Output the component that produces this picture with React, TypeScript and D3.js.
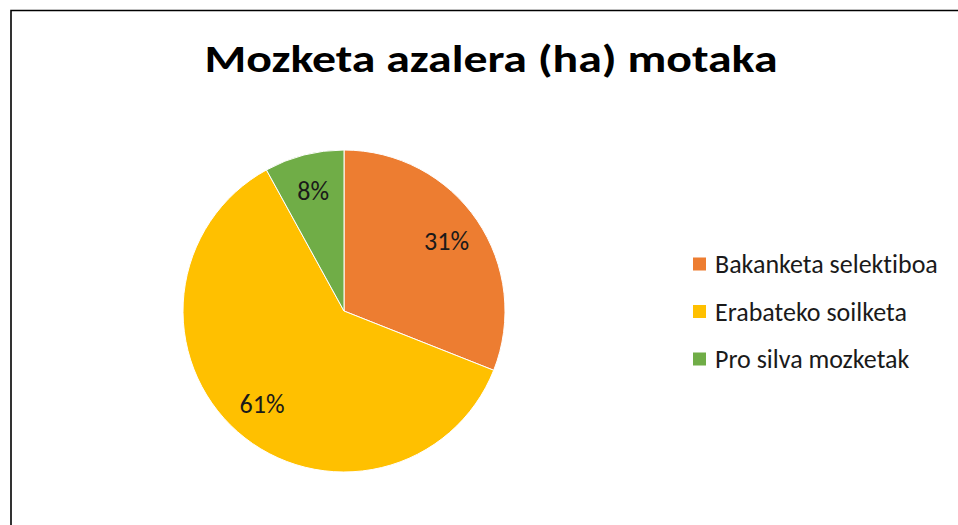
import React, { useEffect, useRef } from "react";
import * as d3 from "d3";

const title = "Mozketa azalera (ha) motaka";
const categories = ["Bakanketa selektiboa", "Erabateko soilketa", "Pro silva mozketak"];
const shares = [31, 61, 8];
const colors = ["#ED7D31", "#FFC000", "#70AD47"];

const FONT = "Calibri, Carlito, Lato, sans-serif";

export default function App() {
  const ref = useRef<SVGSVGElement>(null);

  useEffect(() => {
    const svg = d3.select(ref.current);
    svg.selectAll("*").remove();

    const width = 958;
    const height = 525;

    // chart frame (only top and left edges visible)
    svg.append("path")
      .attr("d", `M11,${height} L11,10.5 L${width},10.5`)
      .attr("fill", "none")
      .attr("stroke", "#000")
      .attr("stroke-width", 1.6);

    // title
    svg.append("text")
      .attr("x", 491)
      .attr("y", 72)
      .attr("text-anchor", "middle")
      .attr("font-family", FONT)
      .attr("font-weight", "bold")
      .attr("font-size", 39)
      .attr("textLength", 573)
      .attr("lengthAdjust", "spacingAndGlyphs")
      .attr("fill", "#000")
      .text(title);

    const data = categories.map((c, i) => ({ name: c, value: shares[i], color: colors[i] }));

    const radius = 161;
    const cx = 344;
    const cy = 311;

    const pie = d3.pie<any>().sort(null).value(d => d.value);
    const arcs = pie(data);
    const arc = d3.arc<any>().innerRadius(0).outerRadius(radius);
    const labelArc = d3.arc<any>().innerRadius(124).outerRadius(124);

    const g = svg.append("g").attr("transform", `translate(${cx},${cy})`);

    g.selectAll("path.slice")
      .data(arcs)
      .enter()
      .append("path")
      .attr("class", "slice")
      .attr("d", arc)
      .attr("fill", d => d.data.color)
      .attr("stroke", "#fff")
      .attr("stroke-width", 1);

    g.selectAll("text.label")
      .data(arcs)
      .enter()
      .append("text")
      .attr("class", "label")
      .attr("transform", d => `translate(${labelArc.centroid(d)})`)
      .attr("text-anchor", "middle")
      .attr("dy", "0.35em")
      .attr("font-family", FONT)
      .attr("font-size", 26)
      .attr("fill", "#1a1a1a")
      .text(d => `${d.data.value}%`);

    // legend
    const legend = svg.append("g").attr("transform", "translate(693,264)");
    const rowGap = 47.5;

    const rows = legend.selectAll("g.row")
      .data(data)
      .enter()
      .append("g")
      .attr("class", "row")
      .attr("transform", (d, i) => `translate(0,${i * rowGap})`);

    rows.append("rect")
      .attr("x", 0)
      .attr("y", -6.5)
      .attr("width", 13)
      .attr("height", 13)
      .attr("fill", d => d.color);

    rows.append("text")
      .attr("x", 22)
      .attr("dy", "0.35em")
      .attr("font-family", FONT)
      .attr("font-size", 26)
      .style("font-variant-ligatures", "none")
      .attr("fill", "#1a1a1a")
      .text(d => d.name);
  }, []);

  return (
    <svg
      ref={ref}
      width={958}
      height={525}
      style={{ position: "absolute", left: 0, top: 0, background: "#fff" }}
    />
  );
}
